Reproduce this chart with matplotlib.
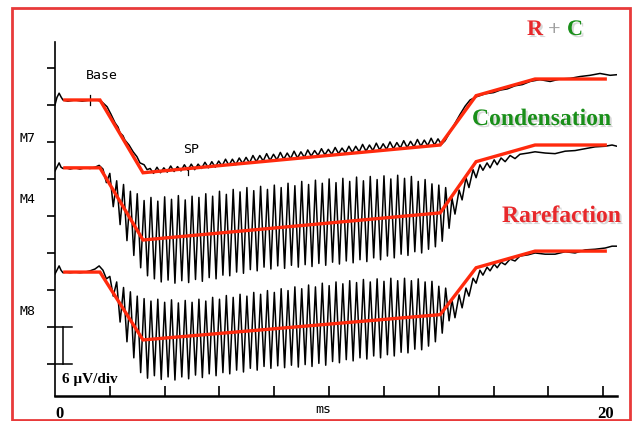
import numpy as np
import matplotlib.pyplot as plt
from matplotlib import patheffects as pe
from matplotlib.patches import Rectangle

# ---- data (time in ms, amplitude in uV) ----
# red piecewise fits (Base / SP / offset / plateau)
red_t = [0.36, 1.64, 3.21, 14.05, 15.36, 17.51, 20.07]
red_m7 = [48.8, 48.8, 37.0, 41.5, 49.5, 52.2, 52.2]
red_m4 = [37.8, 37.8, 26.1, 30.5, 38.8, 41.5, 41.5]
red_m8 = [20.9, 20.9, 9.9, 14.0, 21.6, 24.3, 24.3]

# tone period of the following response (ms)
tone_period = 0.25
burst_start = 1.75
ripple_start = 3.47

# M7: base + onset
m7_head_t = [0.00, 0.07, 0.15, 0.22, 0.29, 0.47, 0.73, 0.99, 1.28, 1.53, 1.71, 1.90,
             2.04, 2.19, 2.30, 2.37, 2.48, 2.55, 2.70, 2.85, 2.99, 3.10, 3.25, 3.36]
m7_head_v = [48.0, 49.2, 49.9, 49.3, 48.8, 48.6, 48.8, 48.6, 48.8, 48.8, 48.5, 47.7,
             46.5, 45.1, 44.4, 43.5, 43.0, 42.3, 41.5, 40.4, 39.6, 38.6, 38.3, 37.5]
# M7: small ripple during SP (peak / trough per cycle)
m7_peaks = [37.7, 37.9, 37.8, 38.1, 38.0, 38.3, 38.4, 38.4, 38.7, 38.8,
            38.9, 39.2, 39.2, 39.4, 39.5, 39.8, 39.8, 40.1, 40.0, 40.3,
            40.2, 40.5, 40.4, 40.7, 40.6, 40.9, 40.8, 41.1, 41.0, 41.3,
            41.3, 41.6, 41.5, 41.8, 41.7, 42.0, 41.9, 42.2, 42.1, 42.4,
            42.3, 42.6, 42.5]
m7_troughs = [36.9, 37.0, 37.1, 37.2, 37.3, 37.4, 37.5, 37.7, 37.8, 37.9,
              38.1, 38.2, 38.3, 38.5, 38.6, 38.8, 38.9, 39.0, 39.1, 39.2,
              39.3, 39.4, 39.5, 39.7, 39.8, 39.9, 40.0, 40.1, 40.2, 40.3,
              40.4, 40.5, 40.6, 40.7, 40.8, 40.9, 41.0, 41.1, 41.2, 41.3,
              41.4, 41.5, 41.6]
# M7: offset + plateau
m7_tail_t = [14.23, 14.41, 14.59, 14.78, 14.96, 15.14, 15.36, 15.69, 16.00, 16.24, 16.50,
             16.78, 17.05, 17.33, 17.69, 18.06, 18.42, 18.79, 19.15, 19.52, 19.88, 20.25, 20.50]
m7_tail_v = [42.2, 43.6, 45.0, 46.5, 47.8, 48.8, 49.3, 49.8, 50.0, 50.4, 50.6,
             51.1, 51.3, 51.8, 52.1, 51.8, 52.2, 52.3, 52.6, 52.8, 53.1, 52.8, 52.9]

# M4 / M8 share the base and tail time stamps
head_t = [0.00, 0.07, 0.15, 0.22, 0.29, 0.40, 0.55, 0.73, 0.91, 1.09, 1.28, 1.46, 1.61]
tail_t = [14.48, 14.59, 14.74, 14.85, 14.99, 15.10, 15.25, 15.36, 15.50, 15.61,
          15.76, 15.87, 16.02, 16.13, 16.27, 16.42, 16.60, 16.78, 16.96, 17.26,
          17.51, 17.88, 18.24, 18.61, 18.97, 19.34, 19.70, 20.07, 20.32, 20.50]

m4_head_v = [37.3, 37.9, 38.6, 37.9, 37.7, 37.8, 37.6, 37.8, 37.6, 37.8, 37.7, 37.9, 38.2]
m4_peaks = [37.6, 36.9, 35.7, 35.1, 34.0, 33.6, 32.5, 33.0, 32.4, 33.1,
            32.7, 33.3, 32.6, 33.2, 33.0, 33.6, 33.2, 34.0, 33.5, 34.3,
            33.9, 34.6, 34.1, 34.8, 34.3, 35.0, 34.6, 35.3, 34.9, 35.6,
            35.1, 35.8, 35.3, 36.0, 35.4, 36.1, 35.6, 36.3, 35.7, 36.4,
            35.9, 36.5, 36.0, 36.6, 36.1, 36.4, 35.6, 35.9, 35.2, 35.0,
            34.6]
m4_troughs = [35.4, 31.5, 28.6, 26.0, 23.6, 21.6, 20.3, 19.8, 19.3, 19.6,
              19.1, 19.5, 19.2, 19.7, 19.4, 20.0, 19.8, 20.4, 20.3, 20.9,
              20.7, 21.3, 21.1, 21.7, 21.4, 21.9, 21.5, 22.0, 21.7, 22.1,
              21.8, 22.3, 22.0, 22.5, 22.2, 22.7, 22.4, 22.9, 22.6, 23.2,
              22.9, 23.5, 23.2, 23.8, 23.6, 24.2, 24.0, 24.6, 25.0, 25.9,
              28.0]
m4_tail_v = [32.9, 30.3, 34.2, 32.6, 36.2, 34.6, 37.5, 36.2, 38.3, 37.4,
             38.6, 37.8, 39.1, 38.3, 39.4, 38.8, 39.8, 39.3, 40.0, 40.2,
             40.4, 40.2, 40.1, 40.5, 40.6, 40.9, 41.2, 41.3, 41.5, 41.3]

m8_head_v = [20.6, 21.2, 21.9, 21.2, 20.8, 20.9, 20.8, 20.9, 20.8, 20.9, 21.1, 21.4, 21.9]
m8_peaks = [21.2, 20.2, 19.3, 18.4, 17.7, 17.0, 16.6, 16.2, 16.5, 16.0,
            16.4, 15.9, 16.3, 16.0, 16.5, 16.2, 16.8, 16.5, 17.1, 16.8,
            17.3, 17.0, 17.6, 17.3, 17.9, 17.6, 18.2, 17.9, 18.5, 18.2,
            18.8, 18.5, 19.1, 18.7, 19.3, 19.0, 19.5, 19.2, 19.7, 19.3,
            19.8, 19.4, 19.9, 19.5, 19.9, 19.5, 19.8, 19.3, 19.4, 18.6,
            18.3]
m8_troughs = [19.8, 17.0, 12.8, 9.6, 7.0, 4.6, 3.7, 4.1, 3.5, 3.9,
              3.4, 3.9, 3.6, 4.2, 3.8, 4.4, 4.1, 4.6, 4.4, 5.0,
              4.7, 5.3, 5.0, 5.6, 5.3, 5.7, 5.4, 5.8, 5.5, 5.9,
              5.6, 6.1, 5.8, 6.4, 6.2, 6.7, 6.5, 7.0, 6.8, 7.3,
              7.0, 7.5, 7.3, 7.9, 7.8, 8.4, 8.3, 8.9, 9.6, 11.0,
              13.0]
m8_tail_v = [16.4, 13.5, 17.2, 15.1, 18.3, 17.0, 19.9, 19.1, 21.2, 20.4,
             21.7, 21.1, 22.2, 21.6, 22.5, 22.1, 23.0, 22.7, 23.5, 23.7,
             24.0, 23.8, 23.8, 24.2, 24.0, 24.5, 24.6, 24.8, 25.1, 25.1]

y_ticks = [6, 12, 18, 24, 30, 36, 42, 48, 54]
x_ticks = [2, 4, 6, 8, 10, 12, 14, 16, 18, 20]


def cycles(start, peaks, troughs):
    # one peak and one trough per tone period
    k = np.arange(len(peaks))
    t = np.column_stack([start + k * tone_period, start + (k + 0.5) * tone_period]).ravel()
    v = np.column_stack([peaks, troughs]).ravel()
    return t, v


def trace(head_t_, head_v, mid, tail_t_, tail_v):
    t = np.concatenate([head_t_, mid[0], tail_t_])
    v = np.concatenate([head_v, mid[1], tail_v])
    return t, v


m7 = trace(m7_head_t, m7_head_v, cycles(ripple_start, m7_peaks, m7_troughs), m7_tail_t, m7_tail_v)
m4 = trace(head_t, m4_head_v, cycles(burst_start, m4_peaks, m4_troughs), tail_t, m4_tail_v)
m8 = trace(head_t, m8_head_v, cycles(burst_start, m8_peaks, m8_troughs), tail_t, m8_tail_v)

# ---- figure ----
W, H = 634, 421
fig = plt.figure(figsize=(W / 100, H / 100), dpi=100)
ax = fig.add_axes([55 / W, 25 / H, 562 / W, 354 / H])
ax.set_xlim(0, 20.5)
ax.set_ylim(0.81, 58.2)

for t, v in (m7, m4, m8):
    ax.plot(t, v, color='black', lw=1.1, zorder=2)

red = '#ff2a0d'
for v in (red_m7, red_m4, red_m8):
    ax.plot(red_t, v, color=red, lw=2.4, zorder=3, solid_joinstyle='miter')

# small markers on M7 (Base / SP)
ax.plot([1.28, 1.28], [48.0, 49.6], color='black', lw=0.9)
ax.plot([4.85, 4.85], [36.6, 37.9], color='black', lw=0.9)

# calibration bar, one division
ax.plot([0.29, 0.29], [6, 12], color='black', lw=1.1)
ax.plot([0, 0.62], [6, 6], color='black', lw=1.1)
ax.plot([0, 0.62], [12, 12], color='black', lw=1.1)

for s in ('top', 'right'):
    ax.spines[s].set_visible(False)
ax.spines['left'].set_linewidth(1.2)
ax.spines['bottom'].set_linewidth(1.8)
ax.set_xticks(x_ticks)
ax.set_yticks(y_ticks)
ax.tick_params(axis='x', direction='in', length=7, width=1.2, labelbottom=False)
ax.tick_params(axis='y', direction='out', length=6, width=1.2, labelleft=False)

mono = dict(family='DejaVu Sans Mono', size=9.5, color='black', clip_on=False)
serif_b = dict(family=['Liberation Serif', 'DejaVu Serif'], weight='bold', clip_on=False)

ax.text(1.13, 52.2, 'Base', **mono)
ax.text(4.67, 40.2, 'SP', **mono)
ax.text(-1.28, 42.0, 'M7', **mono)
ax.text(-1.28, 32.1, 'M4', **mono)
ax.text(-1.28, 13.95, 'M8', **mono)
ax.text(9.78, -1.95, 'ms', ha='center', **mono)
ax.text(0.15, -2.76, '0', ha='center', size=12, **serif_b)
ax.text(20.07, -2.76, '20', ha='center', size=12, **serif_b)
ax.text(0.26, 2.92, '6 \u03bcV/div', size=11, **serif_b)

shadow = [pe.withSimplePatchShadow(offset=(1.5, -1.5), shadow_rgbFace='gray', alpha=0.3)]
big = dict(family=['Liberation Serif', 'DejaVu Serif'], weight='bold', size=17, path_effects=shadow)
fig.text(472 / W, (H - 125) / H, 'Condensation', color='#1a8f1a', **big)
fig.text(502 / W, (H - 222) / H, 'Rarefaction', color='#e8282b', **big)
rc = dict(family=['Liberation Serif', 'DejaVu Serif'], weight='bold', size=16)
fig.text(527 / W, (H - 35) / H, 'R', color='#e8282b', path_effects=shadow, **rc)
fig.text(548 / W, (H - 35) / H, '+', color='#a0a0a0', **rc)
fig.text(567 / W, (H - 35) / H, 'C', color='#1a8f1a', path_effects=shadow, **rc)

# red frame around the whole panel
fig.patches.append(Rectangle((12 / W, 1 / H), 618 / W, 412 / H, transform=fig.transFigure,
                             fill=False, edgecolor='#e83a3a', lw=2.0))

fig.savefig('out.png', dpi=100)
